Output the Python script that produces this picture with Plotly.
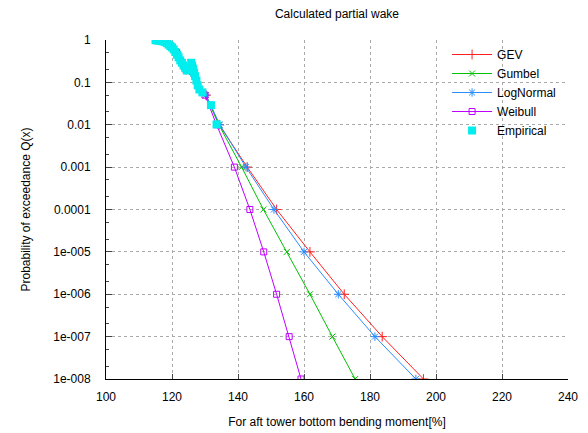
import plotly.graph_objects as go

# Fitted distributions: exceedance probabilities and moments
q_fit = [0.99, 0.5, 0.2, 0.05, 0.01, 1e-3, 1e-4, 1e-5, 1e-6, 1e-7, 1e-8]
gev_x = [116.0, 121.4, 124.3, 130.3, 134.3, 142.8, 151.7, 161.8, 172.2, 183.7, 196.2]
gumbel_x = [116.0, 121.4, 124.3, 130.2, 134.2, 141.1, 147.7, 154.8, 161.8, 168.6, 175.5]
lognormal_x = [116.0, 121.4, 124.3, 130.3, 134.5, 142.4, 150.9, 160.0, 170.4, 181.5, 193.9]
weibull_x = [116.0, 121.4, 124.3, 130.0, 133.5, 138.9, 143.6, 147.8, 151.7, 155.5, 159.1]

# Empirical points
emp_x = [115.0, 115.5, 116.0, 116.5, 117.0, 117.5, 118.0, 118.5, 119.0, 119.5,
         120.0, 120.5, 121.0, 121.5, 122.0, 122.5, 123.0, 123.5, 124.0, 124.5,
         125.8, 126.1, 126.4, 126.7, 127.0, 127.4, 127.8, 128.3, 129.2, 131.8, 133.5]
emp_q = [0.99, 0.98, 0.97, 0.96, 0.94, 0.92, 0.89, 0.84, 0.78, 0.72,
         0.67, 0.60, 0.52, 0.45, 0.39, 0.33, 0.29, 0.25, 0.22, 0.19,
         0.29, 0.25, 0.21, 0.17, 0.14, 0.11, 0.085, 0.068, 0.058, 0.029, 0.0102]

x_ticks = [100, 120, 140, 160, 180, 200, 220, 240]
y_ticks = [1, 0.1, 0.01, 0.001, 0.0001, 1e-5, 1e-6, 1e-7, 1e-8]
y_ticktext = ["1", "0.1", "0.01", "0.001", "0.0001", "1e-005", "1e-006", "1e-007", "1e-008"]

FONT = "Liberation Sans, Arial, sans-serif"

fig = go.Figure()
series = [
    ("GEV", gev_x, "#ff2020", "cross-thin", 7),
    ("Gumbel", gumbel_x, "#00c000", "x-thin", 6),
    ("LogNormal", lognormal_x, "#2a8cff", "asterisk", 7),
    ("Weibull", weibull_x, "#c000ff", "square-open", 6),
]
for name, xs, col, sym, sz in series:
    fig.add_trace(go.Scatter(
        x=xs, y=q_fit, name=name, mode="lines+markers",
        line=dict(color=col, width=1),
        marker=dict(symbol=sym, size=sz, color=col, line=dict(color=col, width=1)),
    ))
fig.add_trace(go.Scatter(
    x=emp_x, y=emp_q, name="Empirical", mode="markers",
    marker=dict(symbol="square", size=8, color="#00eeee", line=dict(width=0)),
))

# The page body adds an 8px offset; the figure is sized to fit the window.
fig.update_layout(
    width=580, height=425,
    margin=dict(l=98, r=20, t=32, b=54),
    paper_bgcolor="white", plot_bgcolor="white",
    font=dict(family=FONT, size=12, color="#000000"),
    title=dict(text="Calculated partial wake", x=0.5, xref="paper", y=0.986,
               xanchor="center", yanchor="middle", font=dict(size=12)),
    showlegend=True,
    legend=dict(x=0.985, y=1.0, xanchor="right", yanchor="top",
                bgcolor="rgba(0,0,0,0)", font=dict(size=12), itemwidth=40,
                tracegroupgap=0),
)
fig.update_xaxes(
    range=[100, 240], tickvals=x_ticks, ticks="inside", ticklen=5,
    ticklabelstandoff=7,
    showline=True, linecolor="black", linewidth=1, mirror=False,
    showgrid=True, gridcolor="#aaaaaa", griddash="dot", gridwidth=1,
    zeroline=False, automargin=False,
    title=dict(text="For aft tower bottom bending moment[%]", standoff=14,
               font=dict(size=12)),
)
fig.update_yaxes(
    type="log", range=[-8, 0], tickvals=y_ticks, ticktext=y_ticktext,
    ticks="inside", ticklen=6, ticklabelstandoff=12,
    showline=True, linecolor="black", linewidth=1, mirror=False,
    showgrid=True, gridcolor="#aaaaaa", griddash="dot", gridwidth=1,
    zeroline=False, automargin=False,
    minor=dict(ticks="inside", ticklen=3, dtick="D2", showgrid=False),
    title=dict(text="Probability of exceedance Q(x)", standoff=20,
               font=dict(size=12)),
)

fig.write_html("out.html")
